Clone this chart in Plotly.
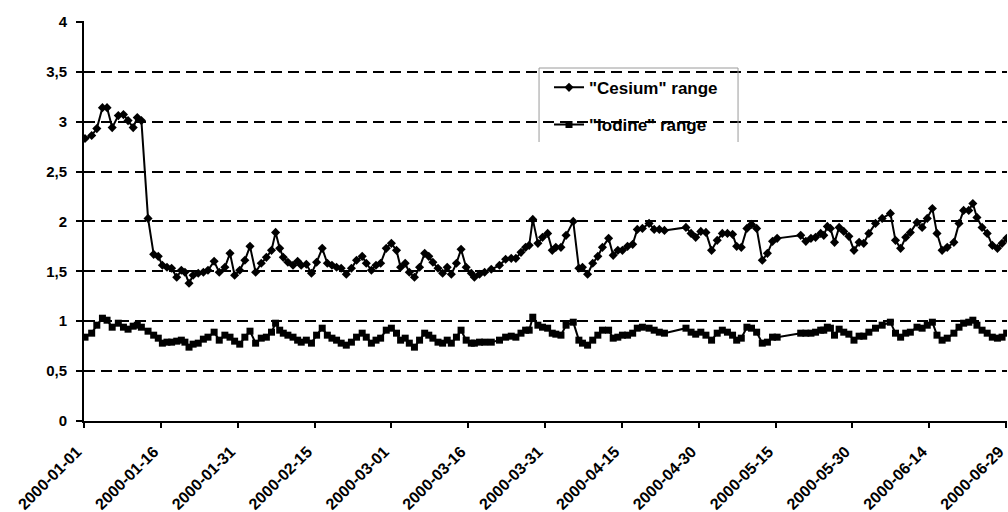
import plotly.graph_objects as go
import pandas as pd

# ---- data ----
day_offset = [0.2, 1.5, 2.5, 3.6, 4.5, 5.5, 6.7, 7.7, 8.6, 9.6, 10.4, 11.2, 12.5, 13.6, 14.5, 15.3, 16.2, 17.1,
              18.1, 19.0, 19.7, 20.5, 21.3, 22.3, 23.3, 24.2, 25.4, 26.4, 27.5, 28.5, 29.4, 30.4, 31.4, 32.4,
              33.5, 34.6, 35.6, 36.6, 37.4,
              38.2, 38.9, 39.8, 40.8, 41.7, 42.4, 43.4, 44.4, 45.4, 46.5, 47.5, 48.4, 49.3, 50.2, 51.2, 52.2,
              53.2, 54.3, 55.1, 56.1, 57.0, 57.9, 59.0, 60.0, 61.0, 61.8, 62.7, 63.5, 64.5, 65.5, 66.5, 67.3,
              68.1, 69.1, 70.0, 70.9, 71.7, 72.7, 73.6, 74.6, 75.6,
              76.2, 77.2, 78.2, 79.5, 81.1, 82.3, 83.4, 84.3, 85.3, 86.2, 86.9, 87.6, 88.6, 89.5, 90.5, 91.4,
              92.1, 93.1, 94.1, 95.5, 96.6, 97.3, 98.3, 99.3, 100.3, 101.2, 102.4, 103.3, 104.2, 105.1, 106.1,
              107.1, 108.0, 109.0, 110.3, 111.3, 112.3, 113.3,
              117.5, 118.5, 119.4, 120.4, 121.4, 122.5, 123.6, 124.6, 125.6, 126.6, 127.4, 128.3, 129.4, 130.3,
              131.3, 132.4, 133.4, 134.4, 135.3,
              139.9, 140.9, 141.9, 142.8, 143.8, 144.4, 145.1, 145.7, 146.5, 147.4, 148.3, 149.3, 150.3, 151.3,
              152.2, 153.2, 154.5, 155.8, 157.4, 158.4, 159.4, 160.4, 161.3, 162.6, 163.6, 164.6, 165.6, 166.5,
              167.5, 168.5, 169.8, 170.8, 171.7, 172.7, 173.5, 174.3, 175.3, 176.3, 177.3, 178.3, 179.2, 180.1]

cesium = [2.83, 2.86, 2.93, 3.14, 3.14, 2.94, 3.06, 3.07, 3.01, 2.94, 3.04, 3.01, 2.03, 1.67, 1.65, 1.56, 1.54, 1.53,
          1.44, 1.51, 1.49, 1.38, 1.46, 1.48, 1.49, 1.51, 1.60, 1.49, 1.54, 1.68, 1.46, 1.51, 1.61, 1.75,
          1.49, 1.58, 1.64, 1.71, 1.89,
          1.73, 1.64, 1.59, 1.56, 1.60, 1.56, 1.57, 1.48, 1.59, 1.73, 1.58, 1.56, 1.54, 1.53, 1.47, 1.53,
          1.61, 1.65, 1.58, 1.51, 1.56, 1.58, 1.73, 1.78, 1.71, 1.54, 1.58, 1.49, 1.44, 1.54, 1.68, 1.65,
          1.59, 1.53, 1.48, 1.54, 1.47, 1.58, 1.72, 1.54, 1.48,
          1.44, 1.47, 1.49, 1.52, 1.56, 1.62, 1.63, 1.63, 1.69, 1.74, 1.76, 2.02, 1.78, 1.84, 1.88, 1.71,
          1.74, 1.74, 1.86, 2.00, 1.53, 1.54, 1.47, 1.58, 1.65, 1.74, 1.83, 1.66, 1.71, 1.71, 1.75,
          1.77, 1.92, 1.93, 1.98, 1.92, 1.92, 1.91,
          1.94, 1.88, 1.84, 1.90, 1.89, 1.71, 1.81, 1.88, 1.88, 1.87, 1.75, 1.74, 1.93, 1.97,
          1.93, 1.61, 1.68, 1.80, 1.83,
          1.86, 1.80, 1.83, 1.84, 1.88, 1.86, 1.95, 1.93, 1.79, 1.94, 1.90, 1.85, 1.71, 1.79,
          1.78, 1.88, 1.98, 2.03, 2.08, 1.81, 1.73, 1.84, 1.89, 1.99, 1.94, 2.03, 2.13, 1.88,
          1.71, 1.74, 1.79, 1.98, 2.11, 2.11, 2.18, 2.04, 1.94, 1.88, 1.76, 1.73, 1.78, 1.83]

iodine = [0.84, 0.88, 0.96, 1.03, 1.01, 0.94, 0.98, 0.94, 0.92, 0.95, 0.96, 0.94, 0.90, 0.86, 0.83, 0.78, 0.79, 0.79,
          0.80, 0.81, 0.79, 0.74, 0.77, 0.78, 0.82, 0.84, 0.89, 0.81, 0.86, 0.84, 0.80, 0.77, 0.84, 0.90,
          0.78, 0.83, 0.84, 0.89, 0.98,
          0.91, 0.88, 0.86, 0.84, 0.81, 0.79, 0.81, 0.78, 0.86, 0.93, 0.86, 0.83, 0.81, 0.78, 0.76, 0.79,
          0.84, 0.88, 0.84, 0.78, 0.81, 0.83, 0.91, 0.93, 0.88, 0.81, 0.83, 0.78, 0.74, 0.81, 0.88, 0.86,
          0.83, 0.79, 0.78, 0.81, 0.78, 0.84, 0.91, 0.81, 0.78,
          0.78, 0.79, 0.79, 0.79, 0.81, 0.84, 0.85, 0.84, 0.88, 0.91, 0.91, 1.04, 0.96, 0.94, 0.93, 0.88,
          0.87, 0.86, 0.96, 0.99, 0.81, 0.78, 0.76, 0.81, 0.86, 0.91, 0.91, 0.83, 0.84, 0.86, 0.86,
          0.88, 0.93, 0.94, 0.93, 0.91, 0.89, 0.88,
          0.93, 0.89, 0.87, 0.89, 0.86, 0.81, 0.88, 0.91, 0.89, 0.86, 0.81, 0.83, 0.94, 0.93,
          0.89, 0.78, 0.79, 0.84, 0.84,
          0.88, 0.88, 0.88, 0.89, 0.91, 0.91, 0.94, 0.93, 0.86, 0.92, 0.89, 0.87, 0.81, 0.85,
          0.85, 0.89, 0.93, 0.96, 0.99, 0.88, 0.84, 0.88, 0.89, 0.94, 0.93, 0.96, 0.99, 0.86,
          0.81, 0.83, 0.88, 0.94, 0.98, 0.99, 1.01, 0.96, 0.91, 0.88, 0.84, 0.83, 0.84, 0.88]

start_date = "2000-01-01"
end_date = "2000-06-29 04:00"
x_tick_labels = ["2000-01-01", "2000-01-16", "2000-01-31", "2000-02-15", "2000-03-01", "2000-03-16",
                 "2000-03-31", "2000-04-15", "2000-04-30", "2000-05-15", "2000-05-30", "2000-06-14",
                 "2000-06-29"]
y_tick_values = [0, 0.5, 1, 1.5, 2, 2.5, 3, 3.5, 4]
y_tick_labels = ["0", "0,5", "1", "1,5", "2", "2,5", "3", "3,5", "4"]
series_names = ['"Cesium" range', '"Iodine" range']

# ---- figure ----
base = pd.Timestamp(start_date)
dates = [base + pd.Timedelta(days=d) for d in day_offset]

FONT = "Liberation Sans, Arial, sans-serif"

fig = go.Figure()
fig.add_trace(go.Scatter(
    x=dates, y=cesium, mode="lines+markers", name=series_names[0], legendgroup="cs",
    line=dict(color="black", width=2),
    marker=dict(symbol="diamond", size=7, color="black"),
))
fig.add_trace(go.Scatter(
    x=dates, y=iodine, mode="lines+markers", name=series_names[1], legendgroup="io",
    line=dict(color="black", width=2),
    marker=dict(symbol="square", size=7, color="black"),
))

# legend box (white, outlined on top, left and right)
bx0, bx1, by0, by1 = 0.493, 0.7086, 0.6975, 0.8825
fig.add_shape(type="rect", xref="paper", yref="paper", x0=bx0, x1=bx1, y0=by0, y1=by1,
              fillcolor="white", line=dict(width=0), layer="between")
for (xa, ya, xb, yb) in [(bx0, by1, bx1, by1), (bx0, by0, bx0, by1), (bx1, by0, bx1, by1)]:
    fig.add_shape(type="line", xref="paper", yref="paper", x0=xa, y0=ya, x1=xb, y1=yb,
                  line=dict(color="#9a9a9a", width=1), layer="above")

fig.update_layout(
    width=1008, height=512,
    margin=dict(l=84, r=1, t=21, b=91, autoexpand=False),
    paper_bgcolor="white", plot_bgcolor="white",
    showlegend=True,
    legend=dict(
        x=0.5038, y=0.878, xanchor="left", yanchor="top",
        bgcolor="rgba(0,0,0,0)", borderwidth=0,
        font=dict(family=FONT, size=17, color="black", weight="bold"),
        tracegroupgap=12, traceorder="grouped",
    ),
    xaxis=dict(
        type="date", range=[start_date, end_date], automargin=False,
        tickmode="array", tickvals=x_tick_labels, ticktext=x_tick_labels,
        tickangle=-45, showgrid=False, zeroline=False, ticklabeloverflow="allow",
        ticklabelshift=-7, ticklabelstandoff=8,
        showline=True, linecolor="black", linewidth=2,
        ticks="outside", ticklen=5, tickwidth=2, tickcolor="black",
        tickfont=dict(family=FONT, size=16, color="black", weight="bold"),
    ),
    yaxis=dict(
        range=[0, 4.008], automargin=False,
        tickmode="array", tickvals=y_tick_values, ticktext=y_tick_labels,
        showgrid=True, gridcolor="black", gridwidth=2, griddash="11px,6px",
        zeroline=False, showline=True, linecolor="black", linewidth=2,
        ticks="outside", ticklen=6, tickwidth=2, tickcolor="black",
        ticklabelstandoff=6,
        tickfont=dict(family=FONT, size=15, color="black", weight="bold"),
    ),
)

# remove the browser's default 8px page margin so the figure sits at the window's corner
fig.write_html(
    "out.html",
    config={"displayModeBar": False},
    post_script="document.body.style.margin='0px'; document.documentElement.style.overflow='hidden';",
)
